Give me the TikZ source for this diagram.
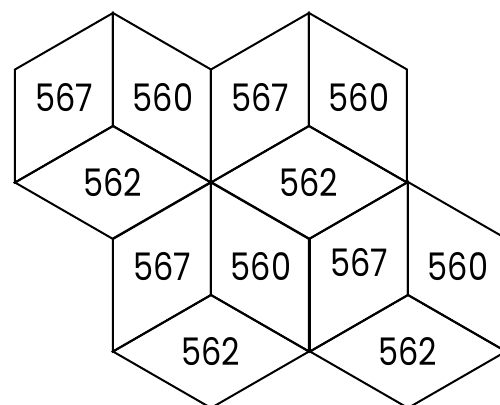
\documentclass[tikz,border=0pt]{standalone}
\usepackage{fontspec}
\setmainfont{Poppins}[FakeStretch=0.84]
\usetikzlibrary{calc}
\tikzset{
  every picture/.append style={font=\fontsize{19}{22}\selectfont},
  facet/.style={draw=black,line width=1pt,line join=miter},
  facetlabel/.style={inner sep=0pt,anchor=center},
}
\begin{document}
\begin{tikzpicture}[x=0.5pt,y=-0.5pt]
  \useasboundingbox (0,0) rectangle (500,405);
  \clip (0,0) rectangle (500,405);
  % one cube per centre: left, right and bottom faces
  \foreach \cx/\cy/\n/\dy in {113/126/a/0,309/126/b/0,211/295/c/0,408/295/d/-4}{
    \coordinate (\n-c)  at (\cx,\cy);
    \coordinate (\n-t)  at (\cx,\cy-113);
    \coordinate (\n-tl) at (\cx-98,\cy-56.5);
    \coordinate (\n-bl) at (\cx-98,\cy+56.5);
    \coordinate (\n-b)  at (\cx,\cy+113);
    \coordinate (\n-br) at (\cx+98,\cy+56.5);
    \coordinate (\n-tr) at (\cx+98,\cy-56.5);
    \draw[facet] (\n-t) -- (\n-tl) -- (\n-bl) -- (\n-c) -- cycle;
    \draw[facet] (\n-t) -- (\n-tr) -- (\n-br) -- (\n-c) -- cycle;
    \draw[facet] (\n-c) -- (\n-bl) -- (\n-b) -- (\n-br) -- cycle;
    \node[facetlabel] (\n-left)   at (\cx-49,\cy-28+\dy) {567};
    \node[facetlabel] (\n-right)  at (\cx+50,\cy-28) {560};
    \node[facetlabel] (\n-bottom) at (\cx,\cy+57) {562};
  }
\end{tikzpicture}
\end{document}
